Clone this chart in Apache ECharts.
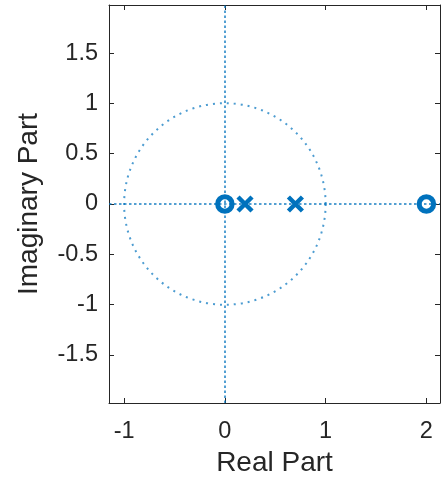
<!DOCTYPE html>
<html>
<head>
<meta charset="utf-8">
<script src="https://cdn.jsdelivr.net/npm/echarts@6/dist/echarts.min.js"></script>
<style>html,body{margin:0;padding:0;background:#fff;}#c{width:443px;height:486px;}</style>
</head>
<body>
<div id="c"></div>
<script>
// Data
const zerosRe = [0, 2];
const zerosIm = [0, 0];
const polesRe = [0.2, 0.7];
const polesIm = [0, 0];
const unitCircle = [[0, 0, 1]]; // centre x, centre y, radius
const xTicks = [-1, 0, 1, 2];
const yTicks = [-1.5, -1, -0.5, 0, 0.5, 1, 1.5];
const xRange = [-1.15, 2.135];
const yRange = [-1.98, 1.98];

const blue = '#0072BD';
const axisCol = '#262626';
const font = 'Liberation Sans, Arial, Helvetica, sans-serif';

const chart = echarts.init(document.getElementById('c'), null, {renderer: 'canvas'});

function mkX(pos, labels) {
  return {
    type: 'value', position: pos, min: xRange[0], max: xRange[1],
    axisLine: {show: true, onZero: false, lineStyle: {color: axisCol, width: 1}},
    axisTick: {show: true, inside: true, length: 5, customValues: xTicks, lineStyle: {color: axisCol}},
    axisLabel: {show: labels, customValues: xTicks, color: axisCol, fontFamily: font, fontSize: 23.5, margin: 17},
    splitLine: {show: false},
    name: labels ? 'Real Part' : '', nameLocation: 'middle', nameGap: 46,
    nameTextStyle: {color: axisCol, fontFamily: font, fontSize: 28}
  };
}
function mkY(pos, labels) {
  return {
    type: 'value', position: pos, min: yRange[0], max: yRange[1],
    axisLine: {show: true, onZero: false, lineStyle: {color: axisCol, width: 1}},
    axisTick: {show: true, inside: true, length: 5, customValues: yTicks, lineStyle: {color: axisCol}},
    axisLabel: {show: labels, customValues: yTicks, color: axisCol, fontFamily: font, fontSize: 23.5, margin: 11},
    splitLine: {show: false},
    name: labels ? 'Imaginary Part' : '', nameLocation: 'middle', nameGap: 66,
    nameTextStyle: {color: axisCol, fontFamily: font, fontSize: 28}
  };
}

const option = {
  animation: false,
  backgroundColor: '#fff',
  grid: {left: 109, right: 3, top: 5, bottom: 83, containLabel: false},
  xAxis: [mkX('bottom', true), mkX('top', false)],
  yAxis: [mkY('left', true), mkY('right', false)],
  series: [
    {
      type: 'custom',
      xAxisIndex: 0, yAxisIndex: 0,
      silent: true,
      z: 1,
      data: unitCircle,
      renderItem: function (params, api) {
        const c = api.coord([api.value(0), api.value(1)]);
        const r = api.size([api.value(2), 0])[0];
        return {
          type: 'circle',
          shape: {cx: c[0], cy: c[1], r: r},
          style: {fill: 'none', stroke: blue, lineWidth: 2, lineDash: [2, 5], opacity: 0.7}
        };
      },
      markLine: {
        silent: true,
        symbol: 'none',
        label: {show: false},
        lineStyle: {color: blue, type: [2.5, 2.5], width: 1.5, opacity: 0.9},
        data: [{xAxis: 0}, {yAxis: 0}]
      }
    },
    {
      type: 'scatter',
      xAxisIndex: 0, yAxisIndex: 0,
      z: 3,
      symbol: 'circle',
      symbolSize: 14.5,
      itemStyle: {color: 'rgba(0,0,0,0)', borderColor: blue, borderWidth: 5, opacity: 1},
      data: zerosRe.map((v, i) => [v, zerosIm[i]])
    },
    {
      type: 'scatter',
      xAxisIndex: 0, yAxisIndex: 0,
      z: 3,
      symbol: 'path://M0,0L10,10M10,0L0,10',
      symbolSize: 14,
      itemStyle: {color: 'rgba(0,0,0,0)', borderColor: blue, borderWidth: 4.5, opacity: 1},
      data: polesRe.map((v, i) => [v, polesIm[i]])
    }
  ]
};
chart.setOption(option);
</script>
</body>
</html>
